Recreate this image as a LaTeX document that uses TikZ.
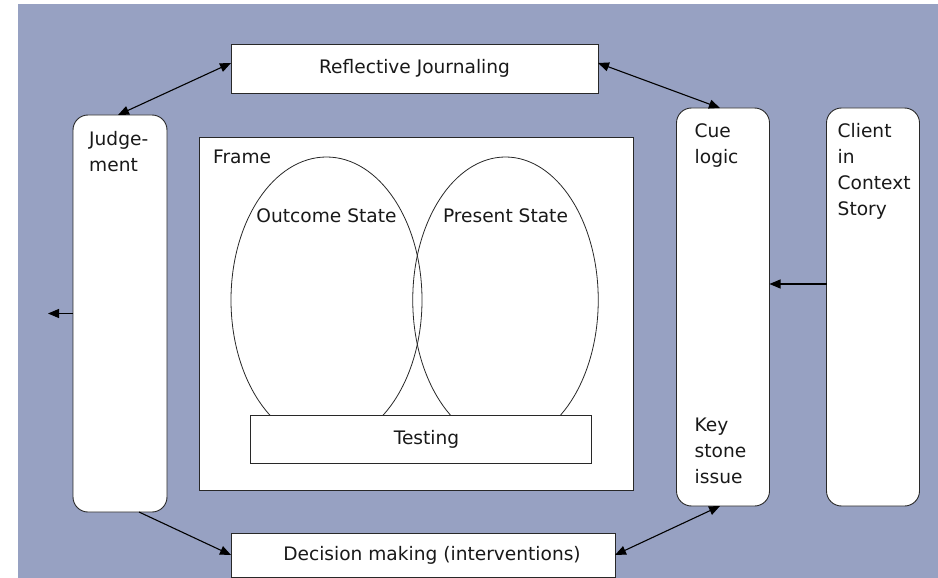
\documentclass[tikz,border=0pt]{standalone}
\usepackage{fontspec}
\setmainfont{DejaVu Sans}
\usetikzlibrary{arrows.meta,calc,positioning,shapes.geometric}
\definecolor{slateblue}{RGB}{151,161,194}
\definecolor{inkgray}{RGB}{40,40,40}

\begin{document}
\begin{tikzpicture}[
  x=1pt, y=-1pt,
  font=\fontsize{18.6}{26}\selectfont,
  box/.style={draw=inkgray, line width=0.9pt, fill=white, inner sep=0pt, outer sep=0pt, text=black!90},
  bar/.style={box, minimum height=49pt},
  pillar/.style={box, rounded corners=15pt, minimum width=93pt, minimum height=398pt},
  bubble/.style={ellipse, draw=inkgray, line width=0.8pt, inner sep=0pt, outer sep=0pt, minimum height=286pt},
  tag/.style={inner sep=0pt, align=left, text=black!90},
  arr/.style={-{Triangle[length=11pt,width=9pt]}, line width=1.1pt},
  dbl/.style={{Triangle[length=11pt,width=9pt]}-{Triangle[length=11pt,width=9pt]}, line width=1.1pt}
]
\useasboundingbox (0,0) rectangle (938,578);
\fill[slateblue] (18,4) rectangle (938,578);

\node[box, minimum width=434pt, minimum height=353pt] (frame) at (416,313.5) {};
\node[tag, anchor=north west] (frametext) at ([xshift=14pt,yshift=-12.5pt]frame.north west) {Frame};
\node[bubble, minimum width=191pt] (outcome) at (326.5,300) {};
\node[bubble, minimum width=185.5pt] (present) at (505.5,300) {};
\node[tag, anchor=base] (outcometext) at (326.5,222) {Outcome State};
\node[tag, anchor=base] (presenttext) at (505.5,222) {Present State};
\node[box, minimum width=341pt, minimum height=48pt] (testing) at (420.5,439) {\hspace*{12pt}Testing};

\node[bar, minimum width=367pt] (reflect) at (414.5,68.5) {Reflective Journaling};
\node[bar, minimum width=384pt, minimum height=44pt] (decision) at (423,555) {\hspace*{18pt}Decision making (interventions)};

\node[pillar, minimum width=94pt, minimum height=397pt] (judge) at (120,313.5) {};
\node[pillar] (cue) at (723,307) {};
\node[pillar] (client) at (873,307) {};
\node[tag, anchor=north west] (judgetext) at ([xshift=16pt,yshift=-16pt]judge.north west) {Judge-\\ment};
\node[tag, anchor=north west] (cuetext) at ([xshift=18pt,yshift=-15pt]cue.north west) {Cue\\logic};
\node[tag, anchor=south west] (keytext) at ([xshift=18pt,yshift=22pt]cue.south west) {Key\\stone\\issue};
\node[tag, anchor=north west] (clienttext) at ([xshift=11pt,yshift=-15pt]client.north west) {Client\\in\\Context\\Story};

\coordinate (exit) at (48,313.5);

\draw[dbl] ([xshift=-2pt]judge.north) -- ([yshift=5.5pt]reflect.west);
\draw[dbl] ([yshift=5.5pt]reflect.east) -- ([xshift=-3pt]cue.north);
\draw[arr] ([xshift=19pt]judge.south) -- (decision.west);
\draw[dbl] (decision.east) -- ([xshift=-3pt]cue.south);
\draw[arr] ([yshift=23pt]client.west) -- ([yshift=23pt]cue.east);
\draw[arr] (judge.west) -- (exit);
\end{tikzpicture}
\end{document}
